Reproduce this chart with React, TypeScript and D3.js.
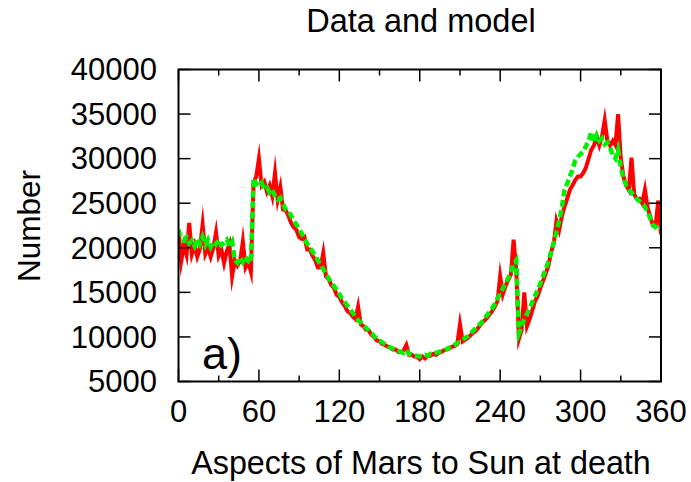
import React from "react";
import * as d3 from "d3";

const angles: number[] = d3.range(0, 361, 2);

const dataValues: number[] = [
  22000, 18500, 20300, 19200, 22800, 19300, 20300, 19000, 19900, 22600,
  19300, 20000, 19000, 20000, 21700, 19100, 19800, 18300, 19600, 20400,
  16800, 18600, 18000, 18500, 20700, 17800, 18400, 17300, 27200, 28000,
  30000, 27000, 27400, 26300, 27000, 25800, 28400, 25400, 26800, 24300,
  24200, 23600, 22800, 22300, 22000, 21200, 21000, 21200, 19800, 19800,
  19100, 18600, 17800, 17800, 19400, 16800, 16500, 15800, 15500, 14700,
  14500, 13900, 13500, 12900, 12700, 12300, 12000, 13400, 11400, 11200,
  10800, 10700, 10200, 10000, 9600, 9500, 9200, 9100, 8900, 8800,
  8600, 8600, 8300, 8300, 8500, 9100, 8000, 8000, 7800, 7800,
  7500, 7800, 7600, 7900, 7900, 8100, 8000, 8200, 8300, 8500,
  8600, 8700, 8900, 9000, 9200, 11400, 9500, 9700, 9900, 10200,
  10500, 10700, 11100, 11500, 11800, 12100, 12500, 12900, 13400, 14000,
  16800, 14800, 15700, 16400, 17000, 20900, 17500, 9800, 10800, 15000,
  11200, 12000, 13000, 14000, 14600, 15500, 16300, 17100, 18000, 19500,
  20500, 23000, 22000, 23500, 24600, 25500, 26500, 27000, 27600, 28000,
  28000, 28400, 29000, 30000, 31000, 31500, 32500, 31500, 32500, 34300,
  32000, 31500, 32000, 31500, 35000, 30000, 28000, 27000, 26500, 30100,
  26000, 25500, 25500, 25000, 26500, 24500, 23500, 22500, 22500, 25300,
  21500,
];

const modelValues: number[] = [
  22000, 21000, 20800, 21200, 20500, 20800, 20200, 21000, 20400, 21200,
  20300, 20900, 20100, 20700, 20400, 20900, 20300, 20600, 20900, 20200,
  20700, 18600, 18300, 18900, 18400, 19000, 18500, 18300, 27800, 27200,
  27000, 27300, 26600, 26800, 26200, 26500, 25800, 25400, 25600, 24900,
  24300, 24100, 23600, 23000, 22600, 22100, 21600, 21000, 20500, 20000,
  19600, 19100, 18600, 18100, 17600, 17100, 16600, 16100, 15700, 15300,
  14800, 14300, 13900, 13500, 13100, 12700, 12300, 11900, 11600, 11300,
  11000, 10700, 10400, 10100, 9800, 9600, 9400, 9200, 9000, 8800,
  8700, 8500, 8400, 8300, 8200, 8500, 8100, 8000, 7900, 7900,
  7800, 7900, 8000, 7900, 8100, 8100, 8200, 8300, 8400, 8500,
  8600, 8800, 8900, 9100, 9300, 9500, 9700, 9900, 10100, 10400,
  10700, 11000, 11300, 11600, 12000, 12400, 12800, 13200, 13700, 14300,
  14900, 15400, 16000, 16600, 17300, 18200, 18600, 10400, 11200, 12000,
  12600, 13200, 13900, 14600, 15300, 16000, 16800, 17600, 18500, 19500,
  20600, 21800, 23000, 24500, 26500, 27200, 28000, 28800, 29800, 30200,
  30500, 30800, 31400, 32000, 33000, 31800, 32600, 32000, 32300, 31600,
  31800, 31200, 30400, 30000, 31000, 29000, 27800, 27000, 26500, 26200,
  25800, 25500, 25200, 24900, 24600, 24000, 23300, 22600, 22300, 22000,
  22200,
];

const xTicks: number[] = [0, 60, 120, 180, 240, 300, 360];
const xMinorTicks: number[] = [30, 90, 150, 210, 270, 330];
const yTicks: number[] = [5000, 10000, 15000, 20000, 25000, 30000, 35000, 40000];

const title = "Data and model";
const xLabel = "Aspects of Mars to Sun at death";
const yLabel = "Number";
const panelLabel = "a)";

export default function App() {
  const W = 691;
  const H = 482;
  const left = 178.5;
  const right = 661;
  const top = 69.5;
  const bottom = 381.5;

  const x = d3.scaleLinear().domain([0, 360]).range([left, right]);
  const y = d3.scaleLinear().domain([5000, 40000]).range([bottom, top]);

  const line = d3
    .line<number>()
    .x((_, i) => x(angles[i]))
    .y((d) => y(d));

  const font = "'Liberation Sans', Arial, Helvetica, sans-serif";

  return (
    <svg
      width={W}
      height={H}
      style={{ position: "absolute", left: 0, top: 0, background: "#fff" }}
      fontFamily={font}
    >
      <rect x={0} y={0} width={W} height={H} fill="#fff" />
      <defs>
        <clipPath id="plotclip">
          <rect x={left} y={top} width={right - left} height={bottom - top} />
        </clipPath>
      </defs>

      <g clipPath="url(#plotclip)">
        <path
          d={line(dataValues) || ""}
          fill="none"
          stroke="#ff0000"
          strokeWidth={4}
          strokeLinejoin="miter"
          strokeMiterlimit={10}
        />
        <path
          d={line(modelValues) || ""}
          fill="none"
          stroke="#00f000"
          strokeWidth={4.5}
          strokeDasharray="7,3.5"
          strokeLinejoin="miter"
          strokeMiterlimit={10}
        />
      </g>

      {xTicks.map((t) => (
        <g key={"xt" + t}>
          <line x1={x(t)} x2={x(t)} y1={bottom} y2={bottom - 12} stroke="#000" strokeWidth={1.5} />
          <line x1={x(t)} x2={x(t)} y1={top} y2={top + 12} stroke="#000" strokeWidth={1.5} />
        </g>
      ))}
      {xMinorTicks.map((t) => (
        <g key={"xm" + t}>
          <line x1={x(t)} x2={x(t)} y1={bottom} y2={bottom - 6} stroke="#000" strokeWidth={1.5} />
          <line x1={x(t)} x2={x(t)} y1={top} y2={top + 6} stroke="#000" strokeWidth={1.5} />
        </g>
      ))}
      {yTicks.map((t) => (
        <g key={"yt" + t}>
          <line x1={left} x2={left + 12} y1={y(t)} y2={y(t)} stroke="#000" strokeWidth={1.5} />
          <line x1={right} x2={right - 12} y1={y(t)} y2={y(t)} stroke="#000" strokeWidth={1.5} />
        </g>
      ))}

      <rect x={left} y={top} width={right - left} height={bottom - top} fill="none" stroke="#000" strokeWidth={2} />

      {yTicks.map((t) => (
        <text key={"yl" + t} x={157} y={y(t)} dy="0.35em" textAnchor="end" fontSize={31} fill="#000">
          {t}
        </text>
      ))}
      {xTicks.map((t) => (
        <text key={"xl" + t} x={x(t)} y={422} textAnchor="middle" fontSize={31} fill="#000">
          {t}
        </text>
      ))}

      <text x={421} y={32} textAnchor="middle" fontSize={32.5} fill="#000">
        {title}
      </text>
      <text x={421} y={474} textAnchor="middle" fontSize={32.3} fill="#000">
        {xLabel}
      </text>
      <text
        transform={`translate(40,${226}) rotate(-90)`}
        textAnchor="middle"
        fontSize={31.5}
        fill="#000"
      >
        {yLabel}
      </text>
      <text x={202} y={369} fontSize={45} fill="#000">
        {panelLabel}
      </text>
    </svg>
  );
}
